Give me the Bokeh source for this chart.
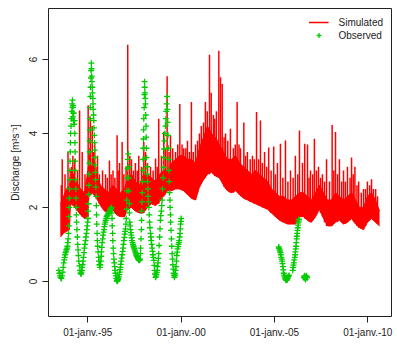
from bokeh.plotting import figure
from bokeh.models import Range1d, FixedTicker, Legend, LegendItem
from bokeh.embed import file_html
from bokeh.resources import INLINE

# ---------------- data (decimal years, m3/s) ----------------
x_tick_values = [1995, 2000, 2005, 2010]
x_tick_labels = ["01-janv.-95", "01-janv.-00", "01-janv.-05", "01-janv.-10"]
y_tick_values = [0, 2, 4, 6]

# simulated: dense band (lower / upper envelope of the daily oscillation)
band_t = [1993.54, 1993.70, 1993.86, 1994.02, 1994.07, 1994.23, 1994.39, 1994.61,
          1994.82, 1994.98, 1995.06, 1995.25, 1995.47, 1995.68, 1995.89, 1996.11,
          1996.32, 1996.54, 1996.75, 1996.97, 1997.13, 1997.34, 1997.55, 1997.77,
          1997.98, 1998.20, 1998.41, 1998.63, 1998.84, 1999.05, 1999.27, 1999.48,
          1999.70, 1999.91, 2000.13, 2000.34, 2000.55, 2000.77, 2000.98, 2001.20,
          2001.41, 2001.63, 2001.84, 2002.05, 2002.27, 2002.48, 2002.70, 2002.91,
          2003.13, 2003.34, 2003.56, 2003.77, 2003.98, 2004.20, 2004.41, 2004.63,
          2004.84, 2005.06, 2005.27, 2005.49, 2005.70, 2005.91, 2006.13, 2006.34,
          2006.56, 2006.77, 2006.98, 2007.20, 2007.41, 2007.63, 2007.84, 2008.05,
          2008.27, 2008.48, 2008.70, 2008.91, 2009.13, 2009.34, 2009.56, 2009.77,
          2009.98, 2010.20, 2010.41, 2010.63]
band_lo = [1.20, 1.30, 1.35, 1.40, 2.10, 2.05, 1.95, 1.80,
           1.70, 1.75, 2.30, 2.40, 2.25, 2.05, 1.90, 1.85,
           1.95, 1.80, 1.75, 1.75, 1.95, 2.00, 1.90, 1.85,
           1.85, 2.00, 2.10, 2.05, 2.15, 2.30, 2.45, 2.45,
           2.50, 2.50, 2.45, 2.35, 2.25, 2.20, 2.55, 2.75,
           2.90, 2.95, 2.85, 2.80, 2.60, 2.45, 2.40, 2.45,
           2.35, 2.25, 2.20, 2.15, 2.10, 2.05, 2.00, 1.95,
           1.85, 1.75, 1.65, 1.60, 1.55, 1.55, 1.55, 1.75,
           1.75, 1.65, 1.60, 1.75, 1.95, 1.70, 1.50, 1.50,
           1.60, 1.65, 1.55, 1.60, 1.70, 1.55, 1.45, 1.40,
           1.60, 1.70, 1.60, 1.50]
band_hi = [2.10, 2.30, 2.50, 2.60, 3.00, 2.90, 2.70, 2.50,
           2.40, 2.90, 3.20, 3.10, 2.90, 2.60, 2.50, 2.40,
           2.60, 2.50, 2.40, 2.50, 2.80, 2.90, 2.70, 2.60,
           2.90, 2.90, 2.80, 2.70, 2.90, 3.00, 3.00, 3.20,
           3.30, 3.40, 3.40, 3.30, 3.30, 3.20, 3.60, 3.90,
           4.20, 4.00, 3.90, 3.70, 3.50, 3.30, 3.30, 3.40,
           3.20, 3.10, 3.00, 2.90, 3.00, 2.90, 2.80, 2.70,
           2.50, 2.40, 2.30, 2.30, 2.20, 2.20, 2.30, 2.40,
           2.40, 2.30, 2.20, 2.40, 2.60, 2.40, 2.20, 2.20,
           2.40, 2.30, 2.20, 2.30, 2.40, 2.20, 2.00, 2.00,
           2.30, 2.40, 2.20, 1.90]

# simulated: main flood peaks (time, base of the peak, peak value)
spike_t = [1993.63, 1993.94, 1994.13, 1994.56, 1994.70, 1995.02, 1995.14, 1995.24,
           1995.37, 1995.52, 1995.79, 1996.16, 1996.35, 1996.57, 1996.70, 1996.84,
           1997.14, 1997.34, 1997.55, 1997.73, 1998.00, 1998.09, 1998.36, 1998.63,
           1998.80, 1999.07, 1999.25, 1999.43, 1999.70, 1999.93, 2000.14, 2000.34,
           2000.55, 2000.77, 2000.98, 2001.20, 2001.30, 2001.52, 2001.61, 2001.73,
           2001.89, 2002.02, 2002.11, 2002.20, 2002.38, 2002.64, 2002.80, 2003.00,
           2003.18, 2003.36, 2003.55, 2003.82, 2004.04, 2004.25, 2004.47, 2004.69,
           2004.96, 2005.16, 2005.32, 2005.59, 2005.86, 2006.12, 2006.34, 2006.50,
           2006.62, 2006.77, 2006.93, 2007.14, 2007.36, 2007.57, 2007.79, 2008.09,
           2008.27, 2008.48, 2008.70, 2008.91, 2009.13, 2009.31, 2009.51, 2009.77,
           2009.98, 2010.20, 2010.42]
spike_base = [1.30, 1.40, 2.10, 1.85, 1.75, 1.75, 2.35, 2.40,
              2.30, 2.20, 2.00, 1.90, 1.95, 1.80, 1.75, 1.75,
              1.95, 2.00, 1.90, 1.85, 1.85, 1.95, 2.10, 2.05,
              2.10, 2.30, 2.45, 2.45, 2.50, 2.50, 2.45, 2.35,
              2.25, 2.20, 2.55, 2.75, 2.80, 2.90, 2.95, 2.90,
              2.85, 2.80, 2.75, 2.70, 2.50, 2.40, 2.40, 2.45,
              2.30, 2.25, 2.20, 2.15, 2.10, 2.05, 2.00, 1.95,
              1.80, 1.70, 1.65, 1.60, 1.55, 1.55, 1.75, 1.75,
              1.70, 1.65, 1.60, 1.70, 1.90, 1.75, 1.50, 1.50,
              1.60, 1.65, 1.55, 1.60, 1.70, 1.60, 1.45, 1.40,
              1.60, 1.70, 1.60]
spike_q = [3.30, 3.50, 3.10, 4.62, 3.50, 4.76, 4.44, 4.20,
           3.77, 3.40, 3.00, 3.27, 3.00, 3.95, 3.20, 3.77,
           6.40, 3.30, 3.20, 3.40, 3.77, 3.50, 3.10, 3.32,
           4.40, 4.05, 5.55, 3.95, 3.50, 4.80, 3.60, 3.80,
           4.85, 3.70, 4.00, 4.30, 4.85, 6.13, 5.10, 4.50,
           4.60, 6.24, 5.52, 5.34, 4.00, 4.13, 3.60, 4.85,
           3.60, 4.30, 3.50, 3.40, 4.58, 4.35, 3.50, 3.62,
           3.65, 3.20, 3.72, 3.81, 3.00, 3.40, 4.08, 3.20,
           3.72, 3.70, 3.00, 3.86, 3.10, 2.90, 3.30, 4.23,
           4.04, 3.30, 3.00, 3.10, 3.35, 3.10, 2.70, 2.50,
           2.70, 2.76, 2.50]

# simulated: smaller peaks
minor_t = [1993.58, 1993.78, 1994.20, 1994.30, 1994.45, 1994.85, 1995.09, 1995.30,
           1995.44, 1995.62, 1995.95, 1996.05, 1996.25, 1996.45, 1996.63, 1996.93,
           1997.05, 1997.25, 1997.45, 1997.65, 1997.88, 1998.20, 1998.50, 1998.72,
           1998.95, 1999.15, 1999.35, 1999.55, 1999.82, 2000.05, 2000.25, 2000.45,
           2000.65, 2000.88, 2001.08, 2001.40, 2001.80, 2002.30, 2002.50, 2002.90,
           2003.10, 2003.45, 2003.70, 2003.92, 2004.15, 2004.35, 2004.58, 2004.82,
           2005.05, 2005.45, 2005.72, 2006.00, 2006.25, 2006.85, 2007.05, 2007.25,
           2007.47, 2007.68, 2007.95, 2008.18, 2008.38, 2008.60, 2008.80, 2009.05,
           2009.22, 2009.42, 2009.65, 2009.88, 2010.10, 2010.30, 2010.52]
minor_base = [1.25, 1.35, 2.05, 2.00, 1.90, 1.70, 2.30, 2.35,
              2.25, 2.10, 1.90, 1.85, 1.90, 1.85, 1.80, 1.75,
              1.90, 2.00, 1.95, 1.88, 1.85, 2.00, 2.08, 2.10,
              2.20, 2.35, 2.45, 2.48, 2.50, 2.48, 2.40, 2.30,
              2.22, 2.40, 2.65, 2.90, 2.85, 2.55, 2.45, 2.45,
              2.35, 2.22, 2.15, 2.10, 2.05, 2.00, 1.95, 1.85,
              1.75, 1.60, 1.55, 1.55, 1.65, 1.62, 1.65, 1.80,
              1.85, 1.60, 1.50, 1.55, 1.62, 1.60, 1.55, 1.65,
              1.65, 1.50, 1.42, 1.50, 1.65, 1.65, 1.55]
minor_q = [2.60, 2.90, 3.40, 3.30, 3.00, 2.90, 3.60, 3.50,
           3.10, 2.90, 2.90, 2.80, 2.90, 2.80, 3.00, 2.90,
           3.10, 3.40, 3.00, 3.00, 3.10, 3.20, 3.00, 3.10,
           3.40, 3.60, 3.50, 3.60, 3.70, 3.70, 3.60, 3.50,
           3.50, 3.80, 4.20, 4.60, 4.40, 3.90, 3.80, 3.70,
           3.70, 3.40, 3.30, 3.30, 3.30, 3.20, 3.10, 3.00,
           2.90, 2.80, 2.70, 2.80, 2.90, 2.80, 2.90, 3.00,
           2.80, 2.70, 2.70, 3.00, 2.90, 2.70, 2.70, 2.80,
           2.90, 2.60, 2.40, 2.50, 2.60, 2.50, 2.30]

# observed discharge
obs_t = [
    1993.45, 1993.48, 1993.51, 1993.55, 1993.59, 1993.62, 1993.66, 1993.68, 1993.71, 1993.74,
    1993.76, 1993.79, 1993.81, 1993.84, 1993.86, 1993.89, 1993.91, 1993.93, 1993.95, 1993.97,
    1993.98, 1993.99, 1994.00, 1994.01, 1994.02, 1994.03, 1994.04, 1994.05, 1994.06, 1994.07,
    1994.08, 1994.10, 1994.12, 1994.14, 1994.16, 1994.18, 1994.19, 1994.20, 1994.21, 1994.22,
    1994.23, 1994.25, 1994.27, 1994.29, 1994.30, 1994.31, 1994.32, 1994.33, 1994.34, 1994.35,
    1994.36, 1994.37, 1994.38, 1994.39, 1994.40, 1994.42, 1994.44, 1994.46, 1994.48, 1994.50,
    1994.52, 1994.55, 1994.58, 1994.61, 1994.64, 1994.66, 1994.68, 1994.70, 1994.72, 1994.75,
    1994.77, 1994.80, 1994.82, 1994.85, 1994.88, 1994.90, 1994.93, 1994.95, 1994.97, 1994.99,
    1995.01, 1995.03, 1995.04, 1995.05, 1995.06, 1995.07, 1995.08, 1995.09, 1995.10, 1995.11,
    1995.12, 1995.13, 1995.14, 1995.15, 1995.17, 1995.18, 1995.19, 1995.20, 1995.21, 1995.22,
    1995.24, 1995.25, 1995.27, 1995.28, 1995.29, 1995.31, 1995.32, 1995.33, 1995.35, 1995.36,
    1995.37, 1995.38, 1995.40, 1995.41, 1995.42, 1995.43, 1995.45, 1995.46, 1995.47, 1995.48,
    1995.50, 1995.51, 1995.53, 1995.55, 1995.58, 1995.60, 1995.62, 1995.65, 1995.67, 1995.70,
    1995.72, 1995.73, 1995.75, 1995.77, 1995.80, 1995.82, 1995.85, 1995.87, 1995.89, 1995.91,
    1995.94, 1995.96, 1995.99, 1996.01, 1996.04, 1996.07, 1996.10, 1996.12, 1996.15, 1996.17,
    1996.20, 1996.23, 1996.25, 1996.27, 1996.29, 1996.30, 1996.31, 1996.33, 1996.34, 1996.36,
    1996.38, 1996.40, 1996.42, 1996.44, 1996.46, 1996.48, 1996.50, 1996.53, 1996.55, 1996.57,
    1996.60, 1996.62, 1996.64, 1996.66, 1996.69, 1996.71, 1996.73, 1996.75, 1996.77, 1996.79,
    1996.82, 1996.84, 1996.87, 1996.89, 1996.91, 1996.93, 1996.96, 1996.98, 1997.00, 1997.02,
    1997.04, 1997.06, 1997.08, 1997.09, 1997.10, 1997.12, 1997.13, 1997.14, 1997.17, 1997.18,
    1997.19, 1997.20, 1997.22, 1997.23, 1997.25, 1997.27, 1997.29, 1997.31, 1997.33, 1997.35,
    1997.37, 1997.40, 1997.42, 1997.44, 1997.46, 1997.49, 1997.51, 1997.53, 1997.56, 1997.58,
    1997.61, 1997.63, 1997.66, 1997.68, 1997.70, 1997.73, 1997.75, 1997.78, 1997.80, 1997.82,
    1997.83, 1997.85, 1997.87, 1997.88, 1997.89, 1997.91, 1997.92, 1997.93, 1997.95, 1997.96,
    1997.97, 1997.98, 1997.99, 1998.00, 1998.02, 1998.03, 1998.04, 1998.05, 1998.06, 1998.08,
    1998.09, 1998.10, 1998.12, 1998.13, 1998.14, 1998.15, 1998.17, 1998.18, 1998.20, 1998.22,
    1998.23, 1998.25, 1998.27, 1998.29, 1998.31, 1998.33, 1998.36, 1998.38, 1998.40, 1998.42,
    1998.45, 1998.47, 1998.49, 1998.51, 1998.54, 1998.56, 1998.58, 1998.60, 1998.63, 1998.65,
    1998.67, 1998.69, 1998.72, 1998.74, 1998.76, 1998.78, 1998.80, 1998.82, 1998.85, 1998.87,
    1998.89, 1998.91, 1998.94, 1998.96, 1998.98, 1999.00, 1999.03, 1999.05, 1999.07, 1999.09,
    1999.11, 1999.13, 1999.16, 1999.18, 1999.20, 1999.22, 1999.25, 1999.26, 1999.28, 1999.30,
    1999.32, 1999.33, 1999.35, 1999.36, 1999.38, 1999.40, 1999.41, 1999.43, 1999.44, 1999.46,
    1999.48, 1999.50, 1999.52, 1999.54, 1999.56, 1999.58, 1999.60, 1999.62, 1999.64, 1999.66,
    1999.68, 1999.70, 1999.73, 1999.75, 1999.77, 1999.79, 1999.81, 1999.84, 1999.86, 1999.88,
    1999.90, 1999.92, 1999.94, 1999.96, 1999.97, 1999.99, 2000.00,
    2005.23, 2005.25, 2005.28, 2005.30, 2005.32, 2005.34, 2005.36, 2005.39, 2005.41, 2005.43,
    2005.45, 2005.47, 2005.50, 2005.52, 2005.54, 2005.57, 2005.59, 2005.62, 2005.64, 2005.67,
    2005.69, 2005.71, 2005.73, 2005.76, 2005.78,
    2005.98, 2006.00, 2006.02, 2006.04, 2006.06, 2006.09, 2006.11, 2006.12, 2006.14, 2006.16,
    2006.17, 2006.19, 2006.20, 2006.22, 2006.23, 2006.25, 2006.27, 2006.28, 2006.30, 2006.31,
    2006.58, 2006.60, 2006.62, 2006.64, 2006.67, 2006.69, 2006.71, 2006.73, 2006.75]
obs_q = [
    0.30, 0.22, 0.15, 0.10, 0.08, 0.15, 0.25, 0.38, 0.50, 0.58,
    0.65, 0.72, 0.78, 0.82, 0.86, 0.90, 0.95, 1.05, 1.15, 1.30,
    1.50, 1.75, 2.00, 2.25, 2.50, 2.75, 3.00, 3.25, 3.50, 3.75,
    4.00, 4.20, 4.40, 4.60, 4.80, 4.90, 4.70, 4.45, 4.75, 4.55,
    4.35, 4.55, 4.25, 4.35, 4.00, 3.75, 3.50, 3.25, 3.00, 2.75,
    2.50, 2.25, 2.00, 1.80, 1.60, 1.40, 1.20, 1.00, 0.85, 0.70,
    0.55, 0.42, 0.30, 0.22, 0.20, 0.25, 0.30, 0.38, 0.45, 0.55,
    0.65, 0.78, 0.90, 1.00, 1.10, 1.20, 1.30, 1.40, 1.50, 1.60,
    1.70, 1.90, 2.10, 2.35, 2.60, 2.90, 3.20, 3.50, 3.80, 4.10,
    4.40, 4.70, 5.00, 5.25, 5.50, 5.70, 5.90, 5.75, 5.55, 5.40,
    5.25, 5.10, 4.95, 4.80, 4.65, 4.50, 4.35, 4.15, 3.95, 3.75,
    3.55, 3.35, 3.15, 2.95, 2.75, 2.55, 2.30, 2.05, 1.80, 1.55,
    1.30, 1.10, 0.95, 0.80, 0.65, 0.55, 0.45, 0.38, 0.45, 0.55,
    0.68, 0.80, 0.92, 1.05, 1.15, 1.25, 1.33, 1.40, 1.48, 1.55,
    1.60, 1.65, 1.70, 1.75, 1.78, 1.80, 1.83, 1.85, 1.88, 1.90,
    1.93, 1.95, 1.98, 2.00, 1.85, 1.70, 1.50, 1.30, 1.10, 0.90,
    0.75, 0.60, 0.50, 0.40, 0.30, 0.22, 0.15, 0.08, 0.03, 0.00,
    0.02, 0.05, 0.08, 0.12, 0.18, 0.25, 0.32, 0.38, 0.46, 0.55,
    0.63, 0.72, 0.81, 0.90, 1.00, 1.10, 1.19, 1.28, 1.35, 1.42,
    1.55, 1.70, 1.95, 2.20, 2.45, 2.80, 3.05, 3.30, 3.45, 3.10,
    2.80, 2.45, 2.10, 1.85, 1.60, 1.50, 1.40, 1.32, 1.25, 1.18,
    1.10, 1.05, 1.00, 0.96, 0.93, 0.89, 0.85, 0.82, 0.78, 0.74,
    0.70, 0.68, 0.65, 0.62, 0.60, 0.58, 0.57, 0.58, 0.60, 0.75,
    0.90, 1.15, 1.40, 1.65, 1.90, 2.15, 2.40, 2.70, 3.00, 3.30,
    3.60, 3.85, 4.10, 4.40, 4.70, 5.05, 5.40, 5.25, 5.10, 4.95,
    4.80, 4.50, 4.20, 3.90, 3.60, 3.35, 3.10, 2.90, 2.70, 2.50,
    2.30, 2.15, 2.00, 1.80, 1.60, 1.45, 1.30, 1.20, 1.10, 1.00,
    0.90, 0.81, 0.72, 0.65, 0.57, 0.43, 0.30, 0.20, 0.11, 0.14,
    0.18, 0.24, 0.30, 0.40, 0.50, 0.62, 0.75, 0.97, 1.20, 1.42,
    1.65, 1.78, 1.90, 2.05, 2.20, 2.50, 2.80, 3.08, 3.35, 3.58,
    3.80, 4.00, 4.20, 4.40, 4.60, 4.80, 5.00, 4.65, 4.30, 3.95,
    3.60, 3.30, 3.00, 2.70, 2.40, 2.20, 2.00, 1.80, 1.60, 1.38,
    1.15, 0.95, 0.75, 0.60, 0.45, 0.33, 0.22, 0.16, 0.11, 0.15,
    0.20, 0.30, 0.40, 0.55, 0.70, 0.79, 0.88, 0.94, 1.00, 1.05,
    1.10, 1.20, 1.30, 1.42, 1.55, 1.62, 1.70,
    0.93, 0.89, 0.85, 0.82, 0.78, 0.72, 0.65, 0.60, 0.55, 0.48,
    0.40, 0.31, 0.22, 0.17, 0.12, 0.09, 0.06, 0.04, 0.03, 0.04,
    0.06, 0.09, 0.12, 0.14, 0.16,
    0.30, 0.38, 0.44, 0.50, 0.58, 0.65, 0.72, 0.80, 0.88, 0.95,
    1.05, 1.15, 1.22, 1.30, 1.38, 1.45, 1.52, 1.58, 1.63, 1.68,
    0.10, 0.14, 0.15, 0.08, 0.05, 0.12, 0.15, 0.12, 0.10]

# ---------------- figure ----------------
FONT = "Liberation Sans"
RED = "#FF0000"
GREEN = "#00CC00"
INK = "#222222"

p = figure(width=396, height=344, output_backend="svg", toolbar_location=None,
           x_range=Range1d(1992.895, 2011.27), y_range=Range1d(-0.95, 7.38),
           min_border_left=48, min_border_right=5, min_border_top=8,
           min_border_bottom=28)
p.background_fill_color = "white"
p.border_fill_color = "white"
p.outline_line_color = INK
p.outline_line_width = 1
p.xgrid.visible = False
p.ygrid.visible = False

p.varea(x=band_t, y1=band_lo, y2=band_hi, fill_color=RED, fill_alpha=1.0)
p.line(band_t, band_hi, line_color=RED, line_width=1)
p.line(band_t, band_lo, line_color=RED, line_width=1)
p.segment(x0=minor_t, y0=minor_base, x1=minor_t, y1=minor_q,
          line_color=RED, line_width=1.5)
sim_r = p.segment(x0=spike_t, y0=spike_base, x1=spike_t, y1=spike_q,
                  line_color=RED, line_width=1.5)

obs_r = p.scatter(obs_t, obs_q, marker="cross", size=6, line_color=GREEN,
                  line_width=1.3)

for ax in (p.xaxis[0], p.yaxis[0]):
    ax.axis_line_color = None
    ax.major_tick_line_color = INK
    ax.major_tick_in = 0
    ax.major_tick_out = 6
    ax.minor_tick_line_color = None
    ax.major_label_text_font = FONT
    ax.major_label_text_font_size = "10px"
    ax.major_label_text_color = INK

p.xaxis[0].ticker = FixedTicker(ticks=x_tick_values)
p.xaxis[0].major_label_overrides = {v: s for v, s in zip(x_tick_values, x_tick_labels)}
p.xaxis[0].major_label_standoff = 4

p.yaxis[0].ticker = FixedTicker(ticks=y_tick_values)
p.yaxis[0].major_label_orientation = "vertical"
p.yaxis[0].major_label_standoff = 5
p.yaxis[0].axis_label = "Discharge [m³s⁻¹]"
p.yaxis[0].axis_label_text_font = FONT
p.yaxis[0].axis_label_text_font_size = "10px"
p.yaxis[0].axis_label_text_font_style = "normal"
p.yaxis[0].axis_label_text_color = INK
p.yaxis[0].axis_label_standoff = 6

legend = Legend(items=[LegendItem(label="Simulated", renderers=[sim_r]),
                       LegendItem(label="Observed", renderers=[obs_r])],
                location="top_right", border_line_color=None,
                background_fill_alpha=0.0, margin=8, padding=3,
                label_text_font=FONT, label_text_font_size="10px",
                label_text_color=INK, label_height=12, glyph_height=12,
                glyph_width=20, label_standoff=10, spacing=1)
p.add_layout(legend)

open("out.html", "w").write(file_html(p, INLINE))
